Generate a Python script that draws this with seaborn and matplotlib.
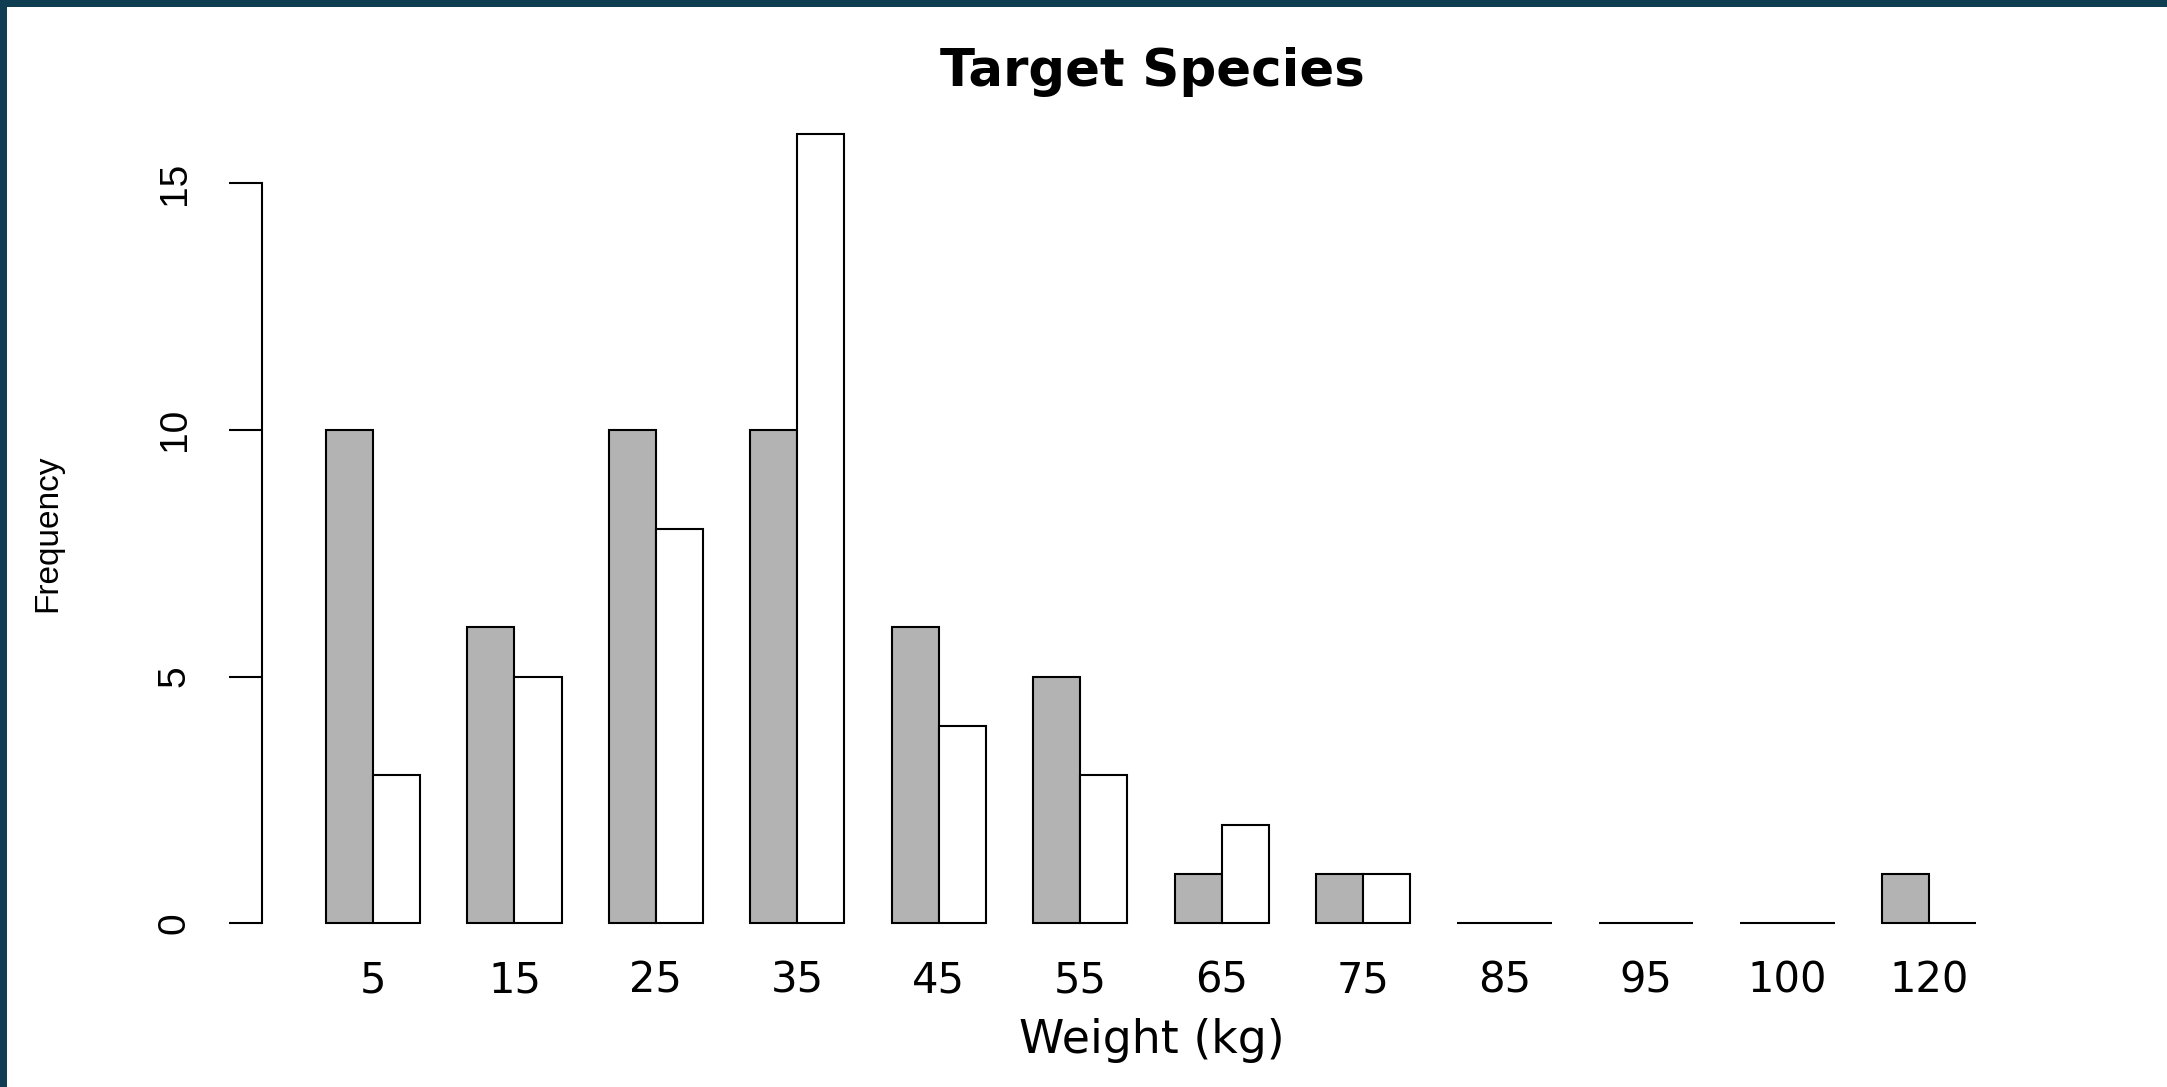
import matplotlib
matplotlib.use("Agg")
import matplotlib.pyplot as plt
from matplotlib.patches import Rectangle
from matplotlib.font_manager import FontProperties
import seaborn as sns
import pandas as pd

# Données
weights = ["5", "15", "25", "35", "45", "55", "65", "75", "85", "95", "100", "120"]
grey_counts = [10, 6, 10, 10, 6, 5, 1, 1, 0, 0, 0, 1]
white_counts = [3, 5, 8, 16, 4, 3, 2, 1, 0, 0, 0, 0]
series = ["grey", "white"]
yticks = [0, 5, 10, 15]

sns.set_theme(style="white")
plt.rcParams["font.family"] = ["DejaVu Sans"]
for k in ["text.color", "axes.labelcolor", "xtick.color", "ytick.color"]:
    plt.rcParams[k] = "black"

df = pd.DataFrame({
    "weight": weights * 2,
    "count": grey_counts + white_counts,
    "series": [series[0]] * len(weights) + [series[1]] * len(weights),
})

W, H = 2167, 1087
fig = plt.figure(figsize=(W / 100, H / 100), dpi=100)
fig.patch.set_facecolor("white")

# axes placés en pixels
left, right, top, bottom = 262, 2042, 102, 955
ax = fig.add_axes([left / W, 1 - bottom / H, (right - left) / W, (bottom - top) / H])

sns.barplot(data=df, x="weight", y="count", hue="series", order=weights,
            hue_order=series, palette={"grey": "#b3b3b3", "white": "white"},
            width=2 / 3, dodge=True, errorbar=None, edgecolor="black",
            linewidth=1.5, legend=False, ax=ax)

ax.set_xlim(-0.785, 11.8)
ax.set_ylim(-0.64, 16.64)

for s in ["top", "right", "bottom"]:
    ax.spines[s].set_visible(False)
ax.spines["left"].set_bounds(0, 15)
ax.spines["left"].set_linewidth(1.5)
ax.spines["left"].set_color("black")

ytick_font = FontProperties(family="Liberation Sans", size=28)
ax.set_yticks(yticks)
ax.set_yticklabels([str(t) for t in yticks], rotation=90, va="center",
                   fontproperties=ytick_font)
ax.tick_params(axis="y", left=True, length=24, width=1.5, color="black", pad=26)
ax.tick_params(axis="x", bottom=False, length=0, pad=3, labelsize=30)

ax.set_ylabel("Frequency", va="center",
              fontproperties=FontProperties(family="Liberation Sans", size=24))
ax.yaxis.set_label_coords(-0.1202, 0.4947)
ax.set_xlabel("Weight (kg)", fontsize=33, va="center")
ax.xaxis.set_label_coords(0.5, -0.1008)
ax.set_title("Target Species", fontsize=37, fontweight="bold", va="center",
             y=1.035, pad=0)

# cadre sombre en haut et à gauche
fig.patches.append(Rectangle((0, 0), 7 / W, 1, transform=fig.transFigure,
                             facecolor="#0f3d52", edgecolor="none"))
fig.patches.append(Rectangle((0, 1 - 7 / H), 1, 7 / H, transform=fig.transFigure,
                             facecolor="#0f3d52", edgecolor="none"))

fig.savefig("out.png", dpi=100, facecolor="white")
